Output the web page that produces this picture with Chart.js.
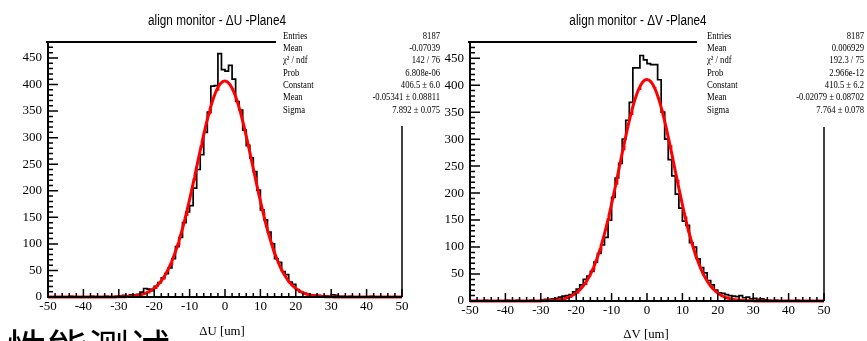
<!DOCTYPE html>
<html>
<head>
<meta charset="utf-8">
<script src="https://cdn.jsdelivr.net/npm/chart.js@4.4.1/dist/chart.umd.min.js"></script>
<style>
  html, body { margin: 0; padding: 0; background: #fff; }
  body { width: 867px; height: 341px; position: relative; overflow: hidden; }
  canvas { position: absolute; top: 0; }
  #cU { left: 0; }
  #cV { left: 444px; }
  .caption {
    position: absolute; left: 6px; top: 326px;
    font: 41px "Noto Sans CJK SC"; line-height: 1; color: #000; white-space: nowrap;
  }
</style>
</head>
<body>
<canvas id="cU" width="444" height="341"></canvas>
<canvas id="cV" width="423" height="341"></canvas>
<div class="caption">性能测试</div>
<script>
// histogram range, 100 bins of 1 um
const xMin = -50, xMax = 50;
const yMax = 480;
const xMajor = 10, xMinor = 2;
const yMajor = 50, yMinor = 10;

// ΔU counts, bins from -50 to 49
const countsU = [
  0, 0, 0, 0, 0, 0, 1, 0, 0, 0,
  0, 0, 1, 0, 0, 0, 1, 0, 0, 1,
  2, 3, 2, 4, 4, 5, 9, 16, 15, 12,
  20, 27, 36, 44, 55, 72, 95, 112, 140, 160,
  172, 205, 240, 268, 310, 348, 397, 398, 458, 428,
  425, 436, 410, 368, 352, 314, 285, 262, 236, 201,
  164, 145, 122, 100, 72, 65, 48, 42, 28, 24,
  14, 9, 7, 5, 4, 3, 3, 2, 2, 1,
  4, 3, 1, 1, 0, 1, 0, 0, 0, 0,
  0, 1, 0, 0, 0, 0, 0, 0, 0, 0
];

// ΔV counts, bins from -50 to 49
const countsV = [
  0, 0, 0, 0, 1, 0, 0, 0, 0, 0,
  1, 0, 0, 1, 0, 0, 0, 1, 0, 0,
  2, 3, 3, 4, 5, 7, 9, 10, 12, 17,
  22, 30, 40, 46, 55, 72, 88, 104, 118, 150,
  192, 228, 255, 300, 335, 368, 432, 432, 455, 447,
  440, 438, 438, 410, 350, 300, 262, 232, 198, 172,
  148, 140, 108, 100, 78, 62, 52, 38, 30, 20,
  15, 14, 12, 10, 9, 8, 10, 6, 7, 4,
  5, 3, 4, 2, 1, 0, 1, 0, 0, 0,
  0, 0, 1, 0, 0, 0, 0, 0, 0, 0
];

// gaussian fit results: constant, mean, sigma
const fitU = [406.5, -0.05341, 7.892];
const fitV = [410.5, -0.02079, 7.764];

const statNames = ['Entries', 'Mean', 'χ² / ndf', 'Prob', 'Constant', 'Mean', 'Sigma'];
const statsU = ['8187', '-0.07039', '142 / 76', '6.808e-06', '406.5 ± 6.0', '-0.05341 ± 0.08811', '7.892 ± 0.075'];
const statsV = ['8187', '0.006929', '192.3 / 75', '2.966e-12', '410.5 ± 6.2', '-0.02079 ± 0.08702', '7.764 ± 0.078'];

function histPoints(counts) {
  const w = (xMax - xMin) / counts.length;
  const pts = [{ x: xMin, y: 0 }];
  counts.forEach((c, i) => pts.push({ x: xMin + i * w, y: c }));
  pts.push({ x: xMax, y: 0 });
  return pts;
}

function fitPoints([a, mu, s]) {
  const pts = [];
  for (let i = 0; i <= 400; i++) {
    const x = xMin + i * (xMax - xMin) / 400;
    pts.push({ x, y: a * Math.exp(-0.5 * ((x - mu) / s) ** 2) });
  }
  return pts;
}

// narrow text, like the condensed ROOT fonts
function squeeze(ctx, text, x, y, align, sx) {
  ctx.save();
  ctx.translate(x, y);
  ctx.scale(sx, 1);
  ctx.textAlign = align;
  ctx.fillText(text, 0, 0);
  ctx.restore();
}

// ROOT style frame: inward ticks, title, axis title and stats box
const rootFrame = {
  id: 'rootFrame',
  afterDraw(chart, args, o) {
    const { ctx, chartArea: a, scales: { x, y } } = chart;
    ctx.save();
    ctx.strokeStyle = '#000';
    ctx.lineWidth = 2;
    ctx.beginPath();
    ctx.moveTo(a.left, a.top);
    ctx.lineTo(a.left, a.bottom);
    ctx.lineTo(a.right, a.bottom);
    ctx.moveTo(a.left - 2, a.top);
    ctx.lineTo(o.boxLeft, a.top);
    ctx.stroke();
    ctx.lineWidth = 1.5;
    ctx.beginPath();
    ctx.moveTo(a.right, o.boxBottom);
    ctx.lineTo(a.right, a.bottom);
    ctx.stroke();

    ctx.lineWidth = 1.5;
    ctx.beginPath();
    for (let v = xMin; v <= xMax; v += xMinor) {
      const px = x.getPixelForValue(v);
      const len = v % xMajor === 0 ? 8 : 4;
      ctx.moveTo(px, a.bottom);
      ctx.lineTo(px, a.bottom - len);
    }
    for (let v = 0; v <= yMax; v += yMinor) {
      const py = y.getPixelForValue(v);
      const len = v % yMajor === 0 ? 10 : 5;
      ctx.moveTo(a.left, py);
      ctx.lineTo(a.left + len, py);
    }
    ctx.stroke();

    ctx.fillStyle = '#000';
    ctx.textBaseline = 'middle';
    ctx.font = '14px "Liberation Sans"';
    squeeze(ctx, o.title, o.titleX, 21, 'center', 0.84);
    ctx.font = '13.5px "Liberation Serif"';
    squeeze(ctx, o.axisTitle, o.axisTitleX, o.axisTitleY, 'center', 0.95);

    ctx.font = '10.5px "Liberation Serif"';
    statNames.forEach((name, i) => {
      const ty = 36 + i * 12.3;
      squeeze(ctx, name, o.statsLeft, ty, 'left', 0.82);
      squeeze(ctx, o.stats[i], o.statsRight, ty, 'right', 0.82);
    });
    ctx.restore();
  }
};

function makeChart(id, counts, fit, geo) {
  const tickFont = { family: 'Liberation Serif', size: 13 };
  return new Chart(document.getElementById(id), {
    type: 'line',
    data: {
      datasets: [
        { data: fitPoints(fit), borderColor: '#ff0000', borderWidth: 3, pointRadius: 0, tension: 0, order: 0, clip: 4 },
        { data: histPoints(counts), borderColor: '#000', borderWidth: 1.7, pointRadius: 0, stepped: true, order: 1, clip: 4 }
      ]
    },
    options: {
      responsive: false,
      animation: false,
      devicePixelRatio: 1,
      layout: { padding: geo.padding },
      plugins: {
        legend: { display: false },
        tooltip: { enabled: false },
        rootFrame: geo.frame
      },
      scales: {
        x: {
          type: 'linear', min: xMin, max: xMax,
          grid: { display: false, drawTicks: false },
          border: { display: false },
          ticks: { stepSize: xMajor, padding: 2, font: tickFont, color: '#000', maxRotation: 0, autoSkip: false },
          afterFit: s => { s.height = geo.xHeight; }
        },
        y: {
          min: 0, max: yMax,
          grid: { display: false, drawTicks: false },
          border: { display: false },
          ticks: { stepSize: yMajor, includeBounds: false, padding: 6, font: tickFont, color: '#000' },
          afterFit: s => { s.width = geo.yWidth; }
        }
      }
    },
    plugins: [rootFrame]
  });
}

makeChart('cU', countsU, fitU, {
  padding: { left: 0, top: 42, right: 42, bottom: 0 },
  yWidth: 48, xHeight: 44,
  frame: {
    title: 'align monitor - ΔU -Plane4', titleX: 217,
    axisTitle: 'ΔU [um]', axisTitleX: 222, axisTitleY: 331,
    boxLeft: 276, boxBottom: 126,
    statsLeft: 283, statsRight: 440, stats: statsU
  }
});

makeChart('cV', countsV, fitV, {
  padding: { left: 0, top: 42, right: 43, bottom: 0 },
  yWidth: 26, xHeight: 40,
  frame: {
    title: 'align monitor - ΔV -Plane4', titleX: 194,
    axisTitle: 'ΔV [um]', axisTitleX: 202, axisTitleY: 334,
    boxLeft: 253, boxBottom: 127,
    statsLeft: 263, statsRight: 420, stats: statsV
  }
});
</script>
</body>
</html>
